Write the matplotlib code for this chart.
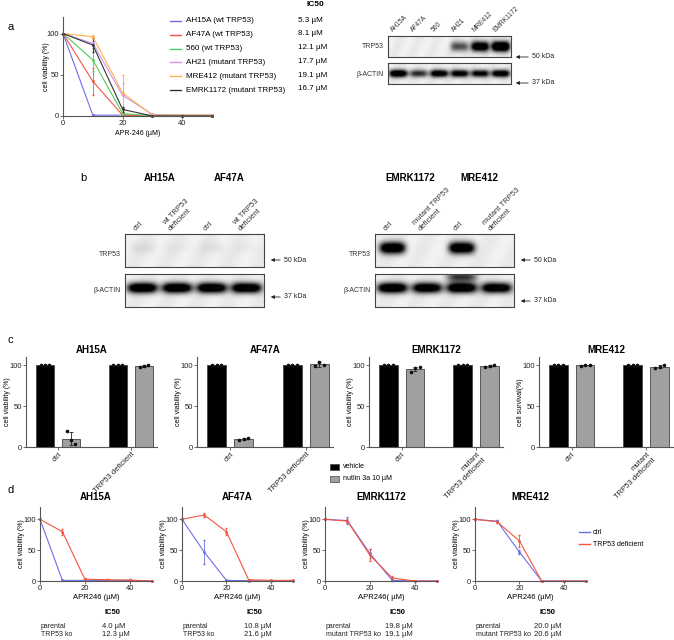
import numpy as np
import matplotlib
matplotlib.use('Agg')
import matplotlib.pyplot as plt
from matplotlib.lines import Line2D
from matplotlib.patches import Rectangle, FancyArrowPatch

plt.rcParams['font.family'] = ['Liberation Sans', 'DejaVu Sans']

W, H = 674, 640
fig = plt.figure(figsize=(W / 100, H / 100), dpi=100)

# ---------------- data ----------------
# panel a: dose response of 6 lines
dose = [0, 10, 20, 30, 40, 50]
a_names = ['AH15A (wt TRP53)', 'AF47A (wt TRP53)', '560 (wt TRP53)',
           'AH21 (mutant TRP53)', 'MRE412 (mutant TRP53)', 'EMRK1172 (mutant TRP53)']
a_ic50 = ['5.3 µM', '8.1 µM', '12.1 µM', '17.7 µM', '19.1 µM', '16.7 µM']
a_colors = ['#6f6fe8', '#f2553f', '#55cc55', '#c596e6', '#ffb04a', '#333333']
a_mean = [[100, 1, 1, 1, 1, 1],
          [100, 42, 1, 0, 0, 0],
          [100, 68, 3, 0, 0, 0],
          [100, 88, 25, 2, 1, 1],
          [100, 96, 28, 1, 1, 1],
          [100, 86, 8, 0, 0, 0]]
a_err = [[0, 0, 0, 0, 0, 0],
         [0, 16, 1, 0, 0, 0],
         [0, 14, 2, 0, 0, 0],
         [0, 3, 15, 1, 0, 0],
         [0, 2, 22, 1, 0, 0],
         [0, 8, 3, 0, 0, 0]]

# western blot band intensities (0 = none, 1 = saturated)
a_lanes = ['AH15A', 'AF47A', '560', 'AH21', 'MRE412', 'EMRK1172']
a_trp53 = [0, 0, 0, 0.5, 1.0, 1.2]
a_actin = [1.0, 0.6, 0.9, 0.85, 0.8, 0.9]

b1_titles = ['AH15A', 'AF47A']
b1_lanes = ['ctrl', 'wt TRP53\ndeficient', 'ctrl', 'wt TRP53\ndeficient']
b1_trp53 = [0.05, 0.02, 0.04, 0.02]
b1_actin = [1.0, 1.0, 1.0, 1.0]
b2_titles = ['EMRK1172', 'MRE412']
b2_lanes = ['ctrl', 'mutant TRP53\ndeficient', 'ctrl', 'mutant TRP53\ndeficient']
b2_trp53 = [1.0, 0.0, 1.0, 0.0]
b2_actin = [1.0, 0.95, 1.0, 0.95]

# panel c: nutlin 3a, three replicates per bar
c_titles = ['AH15A', 'AF47A', 'EMRK1172', 'MRE412']
c_groups = [['ctrl', 'TRP53 deficient'], ['ctrl', 'TRP53 deficient'],
            ['ctrl', 'mutant\nTRP53 deficient'], ['ctrl', 'mutant\nTRP53 deficient']]
c_ylabels = ['cell viability (%)', 'cell viability (%)', 'cell viability (%)', 'cell survival(%)']
c_vehicle = [[[100, 100, 100], [100, 100, 100]]] * 4
c_nutlin = [[[19, 8, 4], [98, 99, 100]],
            [[9, 10, 10.5], [99, 104, 100]],
            [[92, 96, 98], [98, 99, 100]],
            [[99.5, 100, 100.5], [97, 98, 100]]]

# panel d: parental vs TRP53 deficient
d_titles = ['AH15A', 'AF47A', 'EMRK1172', 'MRE412']
d_xlabels = ['APR246 (µM)', 'APR246 (µM)', 'APR246( µM)', 'APR246 (µM)']
d_ctrl = [[100, 1, 1, 1, 1, 0],
          [100, 47, 1, 0.5, 0, 0],
          [100, 98, 45, 1, 0, 0],
          [100, 97, 47, 0, 0, 0]]
d_ctrl_err = [[0, 0, 0, 0, 0, 0],
              [0, 20, 0, 0, 0, 0],
              [0, 5, 7, 1, 0, 0],
              [0, 2, 3, 0, 0, 0]]
d_ko = [[100, 80, 3, 2, 1.5, 0],
        [100, 107, 80, 2, 1, 1],
        [100, 97, 42, 5, 0, 0],
        [100, 96, 65, 0, 0, 0]]
d_ko_err = [[0, 5, 2, 1, 1, 0],
            [0, 3, 6, 0, 0, 0],
            [0, 3, 10, 3, 0, 0],
            [0, 2, 10, 0, 0, 0]]
d_rows = [['parental', 'TRP53 ko'], ['parental', 'TRP53 ko'],
          ['parental', 'mutant TRP53 ko'], ['parental', 'mutant TRP53 ko']]
d_ic50 = [['4.0 µM', '12.3 µM'], ['10.8 µM', '21.6 µM'],
          ['19.8 µM', '19.1 µM'], ['20.0 µM', '20.6 µM']]


# ---------------- helpers ----------------
def add_ax(l, t, r, b):
    return fig.add_axes([l / W, 1 - b / H, (r - l) / W, (b - t) / H])


def txt(x, y, s, **kw):
    kw.setdefault('fontsize', 5)
    fig.text(x / W, 1 - y / H, s, **kw)


def fline(x1, x2, y, color, lw=1.0):
    fig.add_artist(Line2D([x1 / W, x2 / W], [1 - y / H, 1 - y / H], color=color, lw=lw))


def arrow(x1, x2, y, label):
    fig.add_artist(FancyArrowPatch(
        (x1 / W, 1 - y / H), (x2 / W, 1 - y / H), transform=fig.transFigure,
        arrowstyle='-|>', mutation_scale=5, color='#222', lw=0.6))
    txt(x1 + 1, y, label, va='center', ha='left', color='#222')


def prism(ax, ylab_x):
    for s in ['top', 'right']:
        ax.spines[s].set_visible(False)
    for s in ['left', 'bottom']:
        ax.spines[s].set_color('#555')
        ax.spines[s].set_linewidth(0.8)
    ax.tick_params(length=2, width=0.6, labelsize=5.5, pad=1, colors='#555', labelcolor='#222')
    # y label: right edge sits ylab_x pixels left of the axis
    bb = ax.get_position()
    ax.yaxis.set_label_coords(-ylab_x / (bb.width * W), 0.5)


def blot(ax, intens, extra=None, wfrac=0.85, yc=0.45, hy=0.2, bg=0.93):
    n = len(intens)
    X, Y = np.meshgrid(np.linspace(0, n, 400), np.linspace(0, 1, 80))
    dark = np.zeros_like(X)
    bands = [(i, yc, v) for i, v in enumerate(intens)] + (extra or [])
    for i, y0, v in bands:
        dx = (X - (i + 0.5)) / (wfrac / 2)
        dy = (Y - y0) / hy
        dark += v * np.exp(-dx ** 4 - dy ** 2)
    img = bg * (1 - np.clip(dark * 1.4, 0, 1)) + 0.02 * np.sin(X * 7 + Y * 3)
    ax.imshow(img, cmap='gray', vmin=0, vmax=1, extent=(0, n, 1, 0),
              aspect='auto', interpolation='bilinear')
    ax.set_xticks([])
    ax.set_yticks([])
    for s in ax.spines.values():
        s.set_color('#444')
        s.set_linewidth(0.8)


# ---------------- panel a ----------------
txt(8, 27, 'a', fontsize=8, va='center')
ax = add_ax(63, 17, 212, 116)
for m, e, c in zip(a_mean, a_err, a_colors):
    ax.errorbar(dose, m, yerr=e, color=c, lw=0.8, elinewidth=0.6, capsize=1,
                marker='o', ms=1, clip_on=False)
ax.set_xlim(0, 50)
ax.set_ylim(0, 120)
ax.set_xticks([0, 20, 40])
ax.set_yticks([0, 50, 100])
ax.set_ylabel('cell viability (%)', fontsize=5)
ax.set_xlabel('APR-246 (µM)', fontsize=5, labelpad=2)
prism(ax, 13)

txt(315, 5, 'IC50', fontsize=6, weight='bold', ha='center', va='center')
for i, (nm, ic, c) in enumerate(zip(a_names, a_ic50, a_colors)):
    y = 21 + i * 13.8
    fline(170, 181, y, c)
    txt(186, y, nm, fontsize=5.8, va='center')
    txt(298, y - 1, ic, fontsize=5.8, va='center')

bx = add_ax(388, 36, 511, 57)
blot(bx, a_trp53, wfrac=0.88, yc=0.5, hy=0.24)
bx = add_ax(388, 63, 511, 84)
blot(bx, a_actin, wfrac=0.9, yc=0.5, hy=0.18)
for i, lab in enumerate(a_lanes):
    txt(394 + i * 20.5, 33, lab, fontsize=4.8, rotation=45, ha='left', va='bottom',
        rotation_mode='anchor', color='#333')
txt(384, 47, 'TRP53', ha='right', va='center', color='#333')
txt(384, 74, 'β-ACTIN', ha='right', va='center', color='#333')
arrow(531, 513, 57, '50 kDa')
arrow(531, 513, 83, '37 kDa')

# ---------------- panel b ----------------
txt(80, 178, 'b', fontsize=8, va='center')
for (l, r), titles, lanes, trp, act, ext in [
        ((125, 264), b1_titles, b1_lanes, b1_trp53, b1_actin, None),
        ((375, 514), b2_titles, b2_lanes, b2_trp53, b2_actin, [(2, 0.08, 0.55)])]:
    lw_ = (r - l) / 4
    bx = add_ax(l, 234, r, 267)
    blot(bx, trp, wfrac=0.75, yc=0.42, hy=0.18)
    bx = add_ax(l, 274, r, 307)
    blot(bx, act, extra=ext, wfrac=0.88, yc=0.42, hy=0.16)
    for k, t in enumerate(titles):
        txt(l + lw_ * (2 * k + 1), 178, t, fontsize=7, weight='bold', ha='center', va='center')
    for k, lab in enumerate(lanes):
        txt(l + lw_ * (k + 0.5) - 5, 232, lab, fontsize=5.5, rotation=45, ha='left',
            va='bottom', rotation_mode='anchor', color='#333')
    txt(l - 4, 255, 'TRP53', ha='right', va='center', color='#333')
    txt(l - 4, 291, 'β-ACTIN', ha='right', va='center', color='#333')
    arrow(r + 19, r + 4, 260, '50 kDa')
    arrow(r + 19, r + 4, 297 if l < 300 else 301, '37 kDa')

# ---------------- panel c ----------------
txt(8, 340, 'c', fontsize=8, va='center')
c_pos = [(26, 157), (197, 333), (369, 503), (539, 673)]
for j, (l, r) in enumerate(c_pos):
    ax = add_ax(l, 357, r, 447)
    for g in range(2):
        for off, reps, col in [(-0.18, c_vehicle[j][g], '#000000'),
                               (0.18, c_nutlin[j][g], '#a0a0a0')]:
            reps = np.array(reps, dtype=float)
            ax.bar(g + off, reps.mean(), width=0.25, color=col, edgecolor='#444', lw=0.6)
            ax.errorbar(g + off, reps.mean(), yerr=reps.std(ddof=1), color='#222',
                        elinewidth=0.6, capsize=1.5, capthick=0.6)
            ax.plot(g + off + np.array([-0.06, 0, 0.06]), reps, 'o', color='#111',
                    ms=1.6, clip_on=False)
    ax.set_xlim(-0.44, 1.36)
    ax.set_ylim(0, 110)
    ax.set_yticks([0, 50, 100])
    ax.set_xticks([0, 1])
    ax.set_xticklabels(c_groups[j], rotation=45, ha='right', rotation_mode='anchor')
    ax.set_ylabel(c_ylabels[j], fontsize=5)
    ax.set_title(c_titles[j], fontsize=7, weight='bold', pad=3)
    prism(ax, 15)

for k, (lab, col) in enumerate([('vehicle', '#000000'), ('nutlin 3a 10 µM', '#a0a0a0')]):
    y = 467 + k * 12
    fig.add_artist(Rectangle((330 / W, 1 - (y + 3) / H), 9 / W, 6 / H,
                             transform=fig.transFigure, facecolor=col, edgecolor='#444', lw=0.5))
    txt(343, y, lab, va='center')

# ---------------- panel d ----------------
txt(8, 490, 'd', fontsize=8, va='center')
d_pos = [(40, 152), (182, 293), (325, 437), (475, 586)]
for j, (l, r) in enumerate(d_pos):
    ax = add_ax(l, 507, r, 581)
    ax.errorbar(dose, d_ctrl[j], yerr=d_ctrl_err[j], color='#6f6fe8', lw=0.8,
                elinewidth=0.6, capsize=1, marker='o', ms=1, clip_on=False)
    ax.errorbar(dose, d_ko[j], yerr=d_ko_err[j], color='#f2553f', lw=0.8,
                elinewidth=0.6, capsize=1, marker='o', ms=1, clip_on=False)
    ax.set_xlim(0, 50)
    ax.set_ylim(0, 120)
    ax.set_xticks([0, 20, 40])
    ax.set_yticks([0, 50, 100])
    ax.set_ylabel('cell viability (%)', fontsize=5)
    ax.set_xlabel(d_xlabels[j], fontsize=5.5, labelpad=1)
    ax.set_title(d_titles[j], fontsize=7, weight='bold', pad=5)
    prism(ax, 15)
    cx = (l + r) / 2 + 17
    txt(cx, 613, 'IC50', fontsize=5.5, weight='bold', ha='center', va='center')
    for k in range(2):
        txt(l + 1, 626 + k * 8.5, d_rows[j][k], va='center', color='#222')
        txt(cx - 11 if j < 2 else cx - 13, 626 + k * 8.5, d_ic50[j][k], fontsize=5.5,
            va='center', color='#222')

for k, (lab, col) in enumerate([('ctrl', '#6f6fe8'), ('TRP53 deficient', '#f2553f')]):
    y = 532 + k * 12
    fline(579, 590, y, col)
    txt(593, y, lab, va='center')

fig.savefig('out.png', dpi=100)
